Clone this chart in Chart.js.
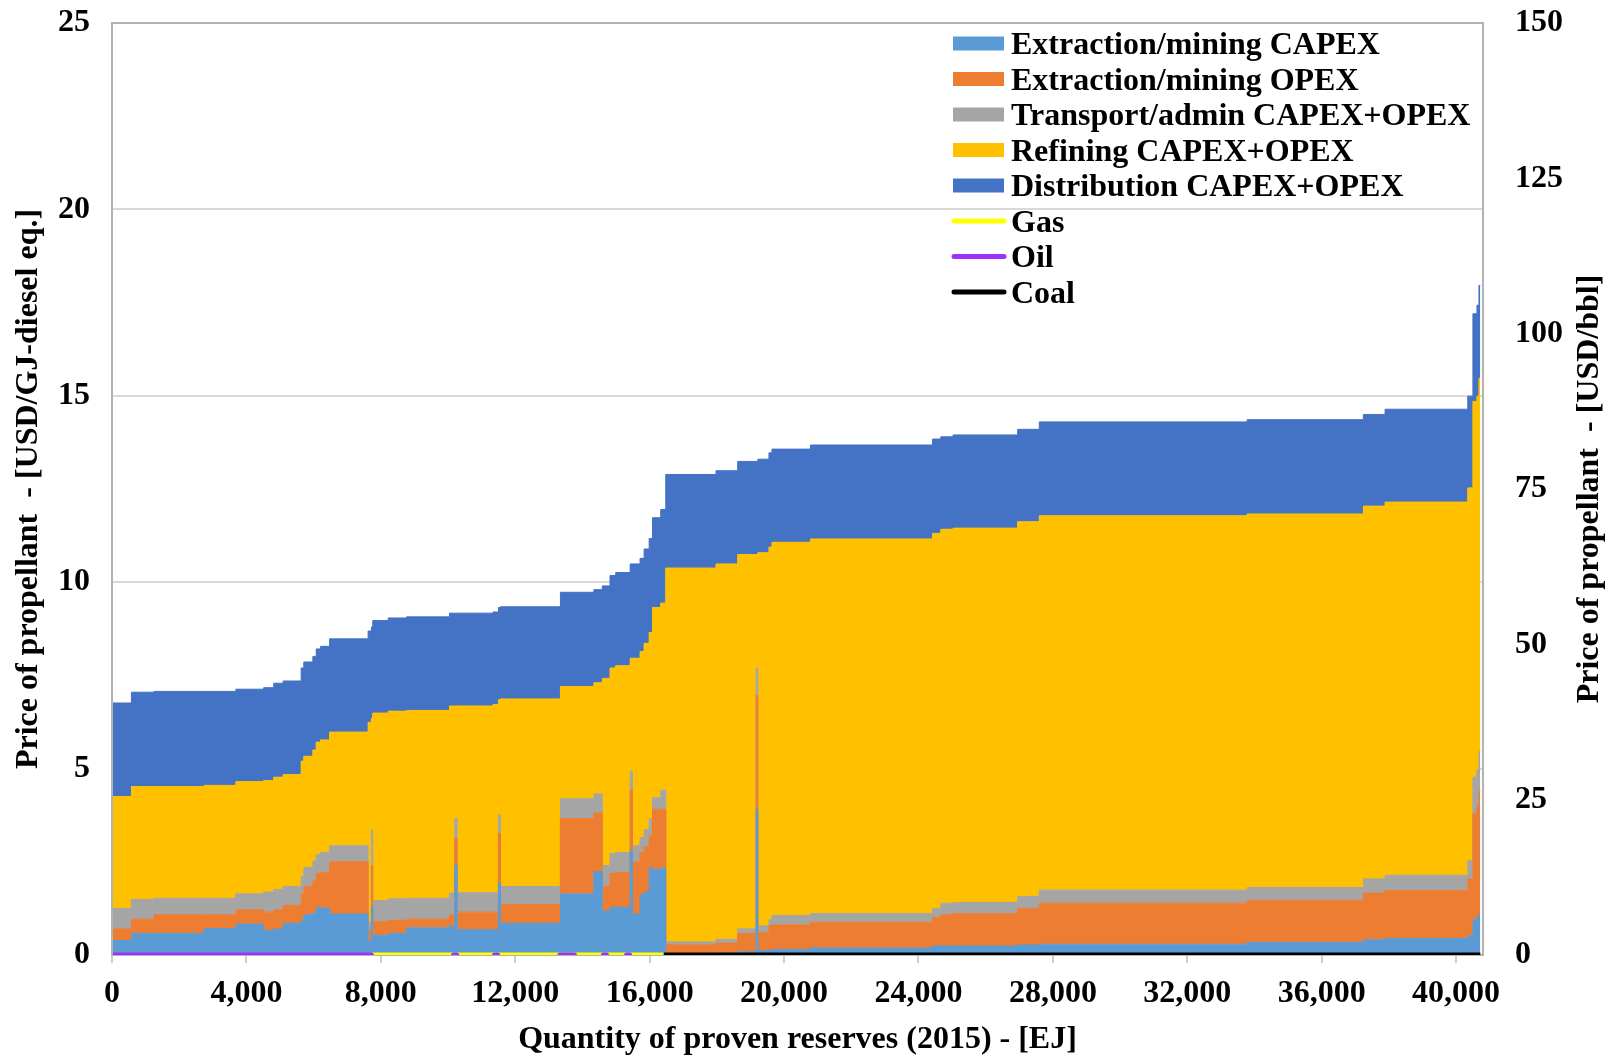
<!DOCTYPE html>
<html>
<head>
<meta charset="utf-8">
<script src="https://cdn.jsdelivr.net/npm/chart.js@4.4.1/dist/chart.umd.min.js"></script>
<style>
html,body{margin:0;padding:0;background:#ffffff;}
#wrap{width:1611px;height:1056px;}
</style>
</head>
<body>
<div id="wrap"><canvas id="c" width="1611" height="1056"></canvas></div>
<script>
// ---- DATA ----
// Start of each reserve block along the cumulative supply curve [EJ]
const reserveStartEJ = [0, 578, 1250, 2740, 3686, 4513, 4812, 5091, 5629, 5708, 5977, 6077, 6207, 6476, 7622, 7720, 7760, 8220, 8768, 10043, 10200, 10270, 11338, 11500, 11560, 13345, 14340, 14590, 14820, 14990, 15420, 15490, 15715, 15835, 15985, 16085, 16330, 16480, 17975, 18620, 19170, 19220, 19550, 19640, 20785, 24417, 24665, 25030, 26950, 27595, 33780, 37240, 37886, 40347, 40500, 40620, 40680];
const reserveEndEJ = 40720;

// Cost components of each block [USD/GJ-diesel eq.]
const extractionCapex = [0.39,0.58,0.58,0.71,0.83,0.66,0.70,0.85,0.93,1.08,1.13,1.28,1.26,1.10,0.37,1.30,0.53,0.58,0.73,0.78,2.40,0.68,0.68,1.94,0.85,1.64,2.24,1.18,1.28,1.28,2.80,1.10,1.61,1.69,2.35,2.30,2.33,0.02,0.05,0.09,3.91,0.12,0.12,0.15,0.19,0.24,0.24,0.24,0.27,0.29,0.34,0.41,0.44,0.52,0.94,1.04,1.10];
const extractionOpex = [0.31,0.38,0.50,0.37,0.38,0.49,0.51,0.48,0.71,0.76,0.86,0.91,0.95,1.40,0.31,1.10,0.37,0.35,0.23,0.30,0.72,0.47,0.47,1.32,0.50,2.02,1.57,0.66,0.91,0.93,1.62,1.40,1.14,1.21,0.85,1.61,1.58,0.25,0.27,0.49,3.06,0.48,0.66,0.66,0.69,0.77,0.84,0.87,0.98,1.10,1.13,1.25,1.29,1.52,2.86,2.96,3.29];
const transportAdmin = [0.55,0.53,0.44,0.44,0.43,0.54,0.55,0.51,0.47,0.51,0.53,0.51,0.54,0.43,0.20,0.96,0.56,0.58,0.56,0.58,0.54,0.52,0.52,0.50,0.49,0.53,0.51,0.56,0.53,0.54,0.50,0.43,0.40,0.46,0.46,0.31,0.51,0.08,0.10,0.12,0.73,0.18,0.17,0.25,0.23,0.24,0.31,0.30,0.32,0.35,0.34,0.38,0.41,0.49,0.97,0.97,1.07];
const refining = [3.00,3.03,3.00,3.03,3.01,2.99,3.01,3.00,3.09,2.98,2.98,3.01,3.02,3.05,5.36,2.99,5.03,5.03,5.04,5.02,3.02,5.01,5.05,3.09,5.03,3.01,2.98,5.02,4.98,5.01,3.04,5.03,4.99,5.00,4.99,5.10,5.02,10.03,10.07,10.04,3.04,10.01,9.99,10.01,10.05,10.06,10.03,10.04,10.05,10.04,10.02,10.00,10.01,10.00,10.08,10.02,10.01];
const distribution = [2.51,2.53,2.55,2.52,2.48,2.49,2.52,2.51,2.50,2.53,2.51,2.50,2.51,2.50,2.45,2.45,2.48,2.50,2.51,2.49,2.49,2.49,2.48,2.47,2.47,2.53,2.50,2.48,2.48,2.50,2.53,2.53,2.50,2.53,2.52,2.41,2.51,2.51,2.50,2.50,2.50,2.51,2.53,2.50,2.52,2.53,2.48,2.50,2.48,2.52,2.53,2.46,2.49,2.46,2.35,2.44,2.49];

// Fuel type marker lines along the x axis [EJ ranges]
const gasRanges  = [[7720, 16420]];
const coalRanges = [[16420, 40720]];
const oilRanges  = [[0, 7720], [10165, 10255], [11385, 11475], [13330, 13760], [14625, 14715], [15315, 15405]];

// Axis ticks
const xTicks = [0, 4000, 8000, 12000, 16000, 20000, 24000, 28000, 32000, 36000, 40000];
const leftTickStep = 5;
const rightTickStep = 25;
const rightTitle = 'Price of propellant  - [USD/bbl]';

// ---- BUILD ----
const FONT = "'Liberation Serif', 'Times New Roman', serif";

function stepPoints(values) {
  const pts = reserveStartEJ.map((x, i) => ({x: x, y: values[i]}));
  pts.push({x: reserveEndEJ, y: values[values.length - 1]});
  return pts;
}
function rangePoints(ranges) {
  const pts = [];
  ranges.forEach((r, i) => {
    if (i > 0) pts.push({x: (ranges[i - 1][1] + r[0]) / 2, y: null});
    pts.push({x: r[0], y: 0}, {x: r[1], y: 0});
  });
  return pts;
}
function area(label, values, color, idx) {
  return {
    label: label, data: stepPoints(values), yAxisID: 'y',
    backgroundColor: color, borderColor: color, borderWidth: 1,
    fill: idx === 0 ? 'origin' : '-1', stepped: true,
    pointRadius: 0, order: 10, isArea: true
  };
}
function fuelLine(label, ranges, color, cap, order) {
  return {
    label: label, data: rangePoints(ranges), yAxisID: 'yR',
    borderColor: color, backgroundColor: color, borderWidth: 5,
    borderCapStyle: cap, fill: false, pointRadius: 0, spanGaps: false,
    order: order, isArea: false
  };
}

const datasets = [
  area('Extraction/mining CAPEX', extractionCapex, '#5B9BD5', 0),
  area('Extraction/mining OPEX', extractionOpex, '#ED7D31', 1),
  area('Transport/admin CAPEX+OPEX', transportAdmin, '#A5A5A5', 2),
  area('Refining CAPEX+OPEX', refining, '#FFC000', 3),
  area('Distribution CAPEX+OPEX', distribution, '#4472C4', 4),
  fuelLine('Gas', gasRanges, '#FFFF00', 'butt', 3),
  fuelLine('Oil', oilRanges, '#9B30FF', 'round', 1),
  fuelLine('Coal', coalRanges, '#000000', 'butt', 2)
];

const framePlugin = {
  id: 'frame',
  afterDatasetsDraw(chart) {
    const a = chart.chartArea, ctx = chart.ctx;
    ctx.save();
    ctx.strokeStyle = '#b3b3b3';
    ctx.lineWidth = 2;
    ctx.beginPath();
    ctx.moveTo(a.left, a.bottom);
    ctx.lineTo(a.left, a.top);
    ctx.lineTo(a.right, a.top);
    ctx.lineTo(a.right, a.bottom);
    ctx.stroke();
    ctx.restore();
  }
};

const legendPlugin = {
  id: 'insideLegend',
  afterDraw(chart) {
    const ctx = chart.ctx;
    ctx.save();
    ctx.font = 'bold 32px ' + FONT;
    ctx.textBaseline = 'alphabetic';
    ctx.textAlign = 'left';
    chart.data.datasets.forEach((ds, i) => {
      const cy = 43.5 + i * 35.5;
      if (ds.isArea) {
        ctx.fillStyle = ds.backgroundColor;
        ctx.fillRect(953, cy - 7, 51, 14);
      } else {
        ctx.strokeStyle = ds.borderColor;
        ctx.lineWidth = 5;
        ctx.lineCap = 'round';
        ctx.beginPath();
        ctx.moveTo(954, cy);
        ctx.lineTo(1004, cy);
        ctx.stroke();
      }
      ctx.fillStyle = '#000000';
      ctx.fillText(ds.label, 1011, cy + 10.6);
    });
    // right axis title, reading bottom-to-top like the left one
    const a = chart.chartArea;
    ctx.translate(1590, (a.top + a.bottom) / 2);
    ctx.rotate(-Math.PI / 2);
    ctx.font = 'bold 32px ' + FONT;
    ctx.textAlign = 'center';
    ctx.textBaseline = 'middle';
    ctx.fillText(rightTitle, 0, 0);
    ctx.restore();
  }
};

const tickFont = {family: FONT, size: 32, weight: 'bold'};
const titleFont = {family: FONT, size: 32, weight: 'bold', lineHeight: 1};
const clear = 'rgba(0,0,0,0)';

new Chart(document.getElementById('c'), {
  type: 'line',
  data: {datasets: datasets},
  options: {
    responsive: false,
    maintainAspectRatio: false,
    animation: false,
    devicePixelRatio: 1,
    layout: {padding: {top: 23, left: 0, right: 0, bottom: 0}},
    plugins: {legend: {display: false}, tooltip: {enabled: false}},
    scales: {
      x: {
        type: 'linear', position: 'bottom', min: 0, max: 40800,
        afterBuildTicks: s => { s.ticks = xTicks.map(v => ({value: v})); },
        grid: {display: true, drawOnChartArea: false, drawTicks: true, tickLength: 8, color: '#cfcfcf', lineWidth: 2},
        border: {display: true, color: '#b3b3b3', width: 2},
        ticks: {autoSkip: false, padding: 12, color: '#000', font: tickFont, maxRotation: 0,
          callback: v => v.toLocaleString('en-US')},
        title: {display: true, text: 'Quantity of proven reserves (2015) - [EJ]', color: '#000', font: titleFont, padding: {top: 0, bottom: 0}},
        afterFit: s => { s.height = 101; }
      },
      y: {
        type: 'linear', position: 'left', stacked: true, min: 0, max: 25,
        grid: {display: true, drawTicks: true, tickLength: 22, tickColor: clear, color: '#d9d9d9', lineWidth: 2},
        border: {display: false},
        ticks: {stepSize: leftTickStep, padding: 0, color: '#000', font: tickFont},
        title: {display: true, text: 'Price of propellant  - [USD/GJ-diesel eq.]', color: '#000', font: titleFont, padding: {top: 13, bottom: 0}},
        afterFit: s => { s.width = 112; }
      },
      yR: {
        type: 'linear', position: 'right', min: 0, max: 150,
        grid: {display: false, drawTicks: true, tickLength: 32, tickColor: clear},
        border: {display: false},
        ticks: {stepSize: rightTickStep, padding: 0, color: '#000', font: tickFont},
        title: {display: false},
        afterFit: s => { s.width = 128; }
      }
    }
  },
  plugins: [framePlugin, legendPlugin]
});
</script>
</body>
</html>
